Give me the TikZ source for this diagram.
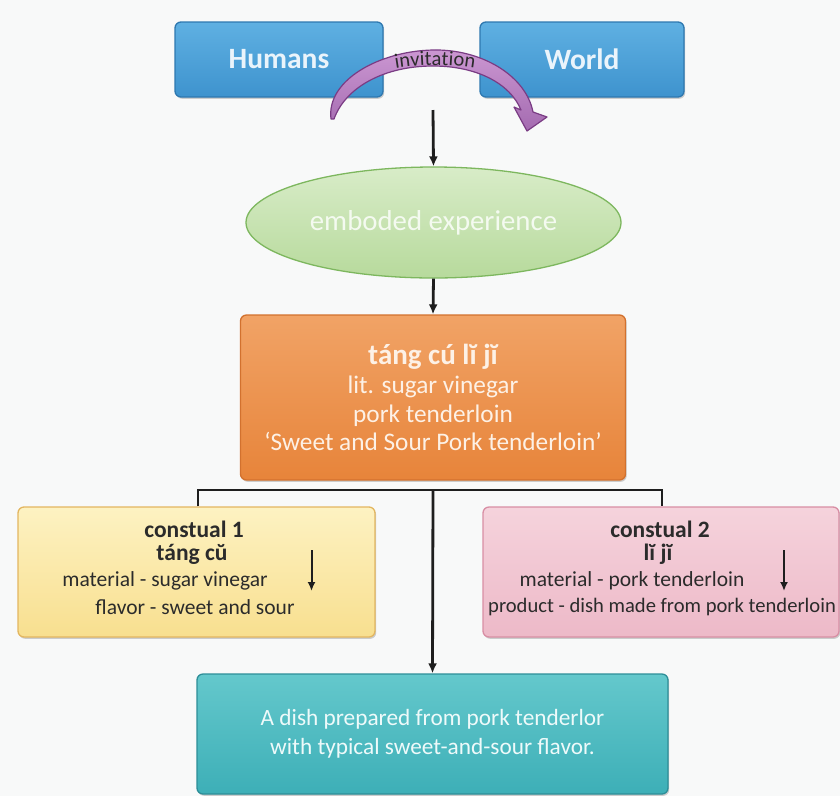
\documentclass[tikz,border=0pt]{standalone}
\usepackage{fontspec}
\setmainfont{Carlito}
\usetikzlibrary{shapes.geometric,arrows.meta,decorations.text,shadows}
\definecolor{bgc}{HTML}{F8F9F9}
\definecolor{blueT}{HTML}{5FB0E2}
\definecolor{blueB}{HTML}{3E93CE}
\definecolor{blueD}{HTML}{2E78B0}
\definecolor{blueTx}{HTML}{EAF4FB}
\definecolor{grnT}{HTML}{D8ECC8}
\definecolor{grnB}{HTML}{B7DA9C}
\definecolor{grnD}{HTML}{7DB75E}
\definecolor{grnTx}{HTML}{F4FAF0}
\definecolor{orT}{HTML}{F1A366}
\definecolor{orB}{HTML}{E7843A}
\definecolor{orD}{HTML}{D2712E}
\definecolor{orTx}{HTML}{FDF1E6}
\definecolor{yeT}{HTML}{FDF2C2}
\definecolor{yeB}{HTML}{F8DF8F}
\definecolor{yeD}{HTML}{E3B660}
\definecolor{piT}{HTML}{F5D3DC}
\definecolor{piB}{HTML}{EDB9C8}
\definecolor{piD}{HTML}{D88EA4}
\definecolor{teT}{HTML}{64C8CC}
\definecolor{teB}{HTML}{3DAFB7}
\definecolor{teD}{HTML}{2D8E98}
\definecolor{teTx}{HTML}{EEFAFA}
\definecolor{puT}{HTML}{CB97D2}
\definecolor{puB}{HTML}{A46BB0}
\definecolor{puD}{HTML}{7A3C84}
\definecolor{darkTx}{HTML}{2B2B2B}
\definecolor{connc}{HTML}{1E1E1E}
\newcommand\myHead{\fontsize{23.5}{26}\selectfont\bfseries}
\newcommand\myBody{\fontsize{21.5}{26}\selectfont}
\begin{document}
\begin{tikzpicture}[x=1pt,y=1pt,
  box/.style={rectangle, rounded corners=6pt, line width=1.3pt, inner sep=0pt,
    drop shadow={shadow xshift=1.2pt, shadow yshift=-1.8pt, opacity=0.18, fill=black}},
  conn/.style={line width=2.8pt, draw=connc},
  tipped/.style={-{Latex[length=10pt,width=9pt]}},
  smallarrow/.style={line width=2pt, draw=connc, -{Latex[length=9pt,width=8pt]}},
  dtext/.style={text=darkTx, inner sep=0pt}]
\fill[bgc] (0,0) rectangle (840,-796);
\useasboundingbox (0,0) rectangle (840,-796);

% top boxes
\node[box, draw=blueD, top color=blueT, bottom color=blueB, minimum width=208pt, minimum height=75pt,
  text=blueTx, font=\fontsize{29.5}{34}\selectfont\bfseries] (humans) at (279,-59.5) {Humans};
\node[box, draw=blueD, top color=blueT, bottom color=blueB, minimum width=204pt, minimum height=75pt,
  text=blueTx, font=\fontsize{29.5}{34}\selectfont\bfseries] (world) at (582,-59.5) {World};

% invitation curved arrow
\path[draw=puD, line width=1.2pt, top color=puT, bottom color=puB, line join=round]
  (331,-119) .. controls (326,-80) and (380,-51) .. (433,-50)
  .. controls (482,-49) and (526,-76) .. (533,-112)
  -- (547,-117) -- (527,-131) -- (514,-107) -- (521,-110)
  .. controls (510,-83) and (476,-66) .. (433,-66)
  .. controls (386,-66) and (346,-86) .. (334,-119) -- cycle;
\path[decorate, decoration={text along path, text align=center,
  text={|\color{darkTx}\fontsize{20.5}{20}\selectfont|invitation}}]
  (378,-72) .. controls (416,-63) and (454,-63) .. (492,-72);

% ellipse
\node[ellipse, draw=grnD, line width=1.3pt, top color=grnT, bottom color=grnB, inner sep=0pt,
  minimum width=375pt, minimum height=111pt, text=grnTx, font=\fontsize{28.8}{32}\selectfont]
  (emb) at (433.5,-222.5) {emboded experience};

% orange box
\node[box, draw=orD, top color=orT, bottom color=orB, minimum width=385pt, minimum height=165pt,
  text=orTx, align=center, font=\fontsize{25.3}{28.5}\selectfont] (main) at (433,-397.5)
  {{\fontsize{29}{32}\selectfont\bfseries táng cú lĭ jĭ}\\[1pt] lit. sugar vinegar\\ pork tenderloin\\ ‘Sweet and Sour Pork tenderloin’};

% yellow box
\node[box, draw=yeD, top color=yeT, bottom color=yeB, minimum width=357pt, minimum height=130pt] (yellow) at (196.5,-572) {};
\node[dtext, font=\myHead] (y1) at (194,-529) {constual 1};
\node[dtext, font=\myHead] (y2) at (192,-554) {táng cŭ};
\node[dtext, font=\myBody] (y3) at (165,-581) {material - sugar vinegar};
\node[dtext, font=\myBody] (y4) at (195,-607) {flavor - sweet and sour};
\coordinate (ya) at (311.5,-550);
\coordinate (yb) at (311.5,-591);
\draw[smallarrow] (ya) -- (yb);

% pink box
\node[box, draw=piD, top color=piT, bottom color=piB, minimum width=356pt, minimum height=130pt] (pink) at (661,-572) {};
\node[dtext, font=\myHead] (p1) at (660,-529) {constual 2};
\node[dtext, font=\myHead] (p2) at (658,-554) {lĭ jĭ};
\node[dtext, font=\myBody] (p3) at (632,-581) {material - pork tenderloin};
\node[dtext, font=\fontsize{20.6}{26}\selectfont, anchor=west] (p4) at (488,-607) {product - dish made from pork tenderloin};
\coordinate (pa) at (784,-550);
\coordinate (pb) at (784,-591);
\draw[smallarrow] (pa) -- (pb);

% teal box
\node[box, draw=teD, top color=teT, bottom color=teB, minimum width=471pt, minimum height=120pt,
  text=teTx, align=center, font=\fontsize{23.3}{29}\selectfont] (result) at (432.5,-734)
  {A dish prepared from pork tenderlor\\ with typical sweet-and-sour flavor.};

% connectors
\coordinate (topc) at (433,-110);
\draw[conn, tipped] (topc) -- (emb.north);
\draw[conn, tipped] (emb.south) -- (main.north);
\coordinate (bar) at (433,-490);
\coordinate (barL) at (198,-490);
\coordinate (barR) at (662,-490);
\draw[conn, line join=miter] (yellow.north -| barL) -- (barL) -- (barR) -- (pink.north -| barR);
\draw[conn, tipped] (bar) -- (result.north);
\end{tikzpicture}
\end{document}
